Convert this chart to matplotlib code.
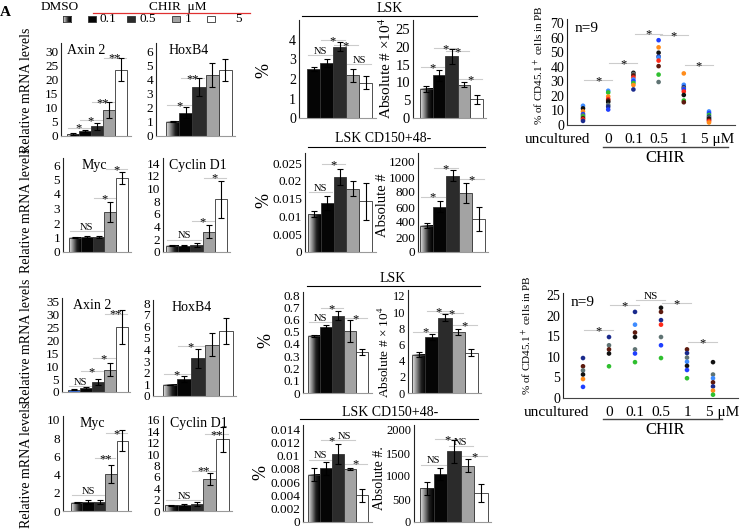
import numpy as np
import matplotlib
matplotlib.use('Agg')
import matplotlib.pyplot as plt
from matplotlib.colors import LinearSegmentedColormap
from matplotlib.patches import Rectangle
from matplotlib.ticker import FuncFormatter

plt.rcParams['font.family'] = ['Liberation Serif', 'DejaVu Serif']
plt.rcParams['mathtext.fontset'] = 'stix'

# ---- data -------------------------------------------------------------
legend_labels = ['0.1', '0.5', '1', '5']

axin2_top = [0.7, 1.8, 3.4, 9.2, 23.7]
axin2_top_err = [0.3, 0.4, 1.1, 2.8, 4.2]
hoxb4_top = [1.0, 1.65, 3.45, 4.3, 4.65]
hoxb4_top_err = [0.03, 0.4, 0.65, 0.85, 0.8]
myc_top = [1.0, 1.02, 1.03, 2.77, 5.13]
myc_top_err = [0.02, 0.08, 0.06, 0.7, 0.42]
ccnd1_top = [1.0, 1.0, 1.1, 3.2, 8.3]
ccnd1_top_err = [0.05, 0.1, 0.25, 1.05, 2.9]

axin2_bot = [0.9, 1.4, 3.9, 8.7, 25.3]
axin2_bot_err = [0.1, 0.5, 1.3, 2.4, 6.5]
hoxb4_bot = [0.95, 1.45, 3.25, 4.4, 5.6]
hoxb4_bot_err = [0.02, 0.25, 0.8, 1.0, 1.15]
myc_bot = [0.92, 1.0, 1.0, 4.1, 7.7]
myc_bot_err = [0.02, 0.2, 0.25, 1.0, 1.15]
ccnd1_bot = [1.0, 1.1, 1.2, 5.6, 12.6]
ccnd1_bot_err = [0.05, 0.15, 0.35, 1.1, 2.2]

lsk_pct_top = [2.52, 2.81, 3.66, 2.18, 1.82]
lsk_pct_top_err = [0.1, 0.2, 0.22, 0.35, 0.35]
lsk_abs_top = [8.2, 12.0, 17.3, 9.4, 5.3]
lsk_abs_top_err = [0.8, 1.5, 2.0, 0.8, 1.3]
cd_pct_top = [0.0106, 0.0138, 0.0211, 0.0178, 0.0143]
cd_pct_top_err = [0.0008, 0.002, 0.0022, 0.0022, 0.0052]
cd_abs_top = [350, 605, 1017, 784, 434]
cd_abs_top_err = [35, 70, 75, 130, 160]

lsk_pct_bot = [0.466, 0.542, 0.632, 0.507, 0.334]
lsk_pct_bot_err = [0.01, 0.012, 0.035, 0.09, 0.025]
lsk_abs_bot = [4.73, 6.9, 9.33, 7.52, 5.01]
lsk_abs_bot_err = [0.3, 0.4, 0.4, 0.35, 0.4]
cd_pct_bot = [0.0071, 0.0081, 0.0102, 0.0080, 0.0040]
cd_pct_bot_err = [0.001, 0.001, 0.0015, 0.0001, 0.001]
cd_abs_bot = [736, 1043, 1543, 1221, 629]
cd_abs_bot_err = [140, 140, 250, 140, 200]

# engraftment, one list per group
groups = ['uncultured', '0', '0.1', '0.5', '1', '5 μM']
mouse_cols = {'blue': '#1f3fff', 'lblue': '#3d8bff', 'orange': '#ff8c1a', 'red': '#ff2a1a',
              'black': '#111111', 'maroon': '#5c1a0e', 'green': '#2fbf2f', 'gray': '#5f7373',
              'navy': '#1a2a8c'}
pb_top = [
    [13.2, 11.4, 9.3, 7.5, 6.5, 5.8, 4.7, 3.8, 2.8],
    [23.5, 22.3, 19.6, 17.8, 16.8, 15.8, 13.8, 12.6, 10.6],
    [35.8, 35.0, 34.0, 32.6, 31.2, 30.1, 28.8, 27.4, 24.4],
    [58.2, 53.3, 49.6, 47.0, 46.3, 44.2, 40.4, 34.6, 29.5],
    [35.4, 27.6, 26.0, 25.2, 24.5, 23.0, 20.6, 16.8, 15.6],
    [9.3, 8.1, 6.9, 5.7, 5.0, 4.3, 3.4, 2.6, 1.7],
]
pb_top_cols = [
    ['lblue', 'black', 'orange', 'blue', 'gray', 'green', 'maroon', 'red', 'navy'],
    ['lblue', 'green', 'orange', 'red', 'maroon', 'black', 'gray', 'navy', 'blue'],
    ['black', 'gray', 'maroon', 'red', 'lblue', 'blue', 'green', 'orange', 'navy'],
    ['blue', 'orange', 'black', 'navy', 'lblue', 'red', 'maroon', 'green', 'gray'],
    ['orange', 'lblue', 'navy', 'gray', 'blue', 'red', 'black', 'green', 'maroon'],
    ['lblue', 'blue', 'green', 'navy', 'gray', 'black', 'maroon', 'red', 'orange'],
]
pb_bot = [
    [9.7, 7.7, 6.7, 5.7, 4.6, 2.7],
    [14.8, 12.8, 11.8, 10.8, 7.7],
    [20.9, 17.8, 15.9, 14.8, 11.8, 10.8, 8.7],
    [21.9, 20.9, 18.9, 17.8, 14.8, 12.8, 9.7],
    [11.8, 10.9, 9.8, 8.8, 7.8, 6.8, 4.8],
    [8.7, 5.7, 4.8, 3.8, 2.8, 1.8, 0.8],
]
pb_bot_cols = [
    ['navy', 'maroon', 'gray', 'black', 'orange', 'blue'],
    ['navy', 'gray', 'maroon', 'black', 'green'],
    ['navy', 'lblue', 'maroon', 'black', 'gray', 'blue', 'green'],
    ['black', 'maroon', 'navy', 'red', 'gray', 'blue', 'green'],
    ['maroon', 'navy', 'gray', 'lblue', 'black', 'blue', 'green'],
    ['black', 'gray', 'lblue', 'maroon', 'navy', 'orange', 'green'],
]

# ---- figure helpers ---------------------------------------------------
W, H = 741, 530
fig = plt.figure(figsize=(W / 100, H / 100), dpi=100)
grad_cmap = LinearSegmentedColormap.from_list('g', ['#e8e8e8', '#8a8a8a', '#202020', '#000000'])
BAR_COLS = ['grad', '#050505', '#2b2b2b', '#a3a3a3', 'white']
fmt = FuncFormatter(lambda v, p: f'{v:g}')


def ftext(x, y, s, **kw):
    fig.text(x / W, 1 - y / H, s, **kw)


def fline(x0, x1, y, color='black', lw=0.8):
    fig.add_artist(plt.Line2D([x0 / W, x1 / W], [1 - y / H] * 2, color=color, lw=lw))


def bar_panel(box, tick, vals, errs, sigs, yticks, colors=BAR_COLS, title=None, tx=0.5, fs=9.5):
    xs, xb0, xb1, xe, ytop, ybot = box
    tv, ty = tick
    ax = fig.add_axes([xs / W, 1 - ybot / H, (xe - xs) / W, (ybot - ytop) / H])
    x = np.arange(5)
    bars = ax.bar(x, vals, width=1, color=[('none' if c == 'grad' else c) for c in colors],
                  edgecolor='#333333', linewidth=0.6, zorder=2)
    for b, c in zip(bars, colors):
        if c == 'grad':
            ax.imshow(np.linspace(0, 1, 64).reshape(1, -1), cmap=grad_cmap, aspect='auto',
                      extent=[b.get_x(), b.get_x() + b.get_width(), 0, b.get_height()], zorder=1.9)
    ax.errorbar(x, vals, yerr=errs, fmt='none', ecolor='black', elinewidth=0.8,
                capsize=2, capthick=0.8, zorder=3)
    for i, j, h, s in sigs:
        ax.plot([i - 0.4, j + 0.4], [h, h], color='#cccccc', lw=0.8, zorder=1)
        off = -3 if '*' in s else 0.8
        ax.annotate(s, ((i + j) / 2, h), xytext=(0, off), textcoords='offset points',
                    ha='center', va='baseline', fontsize=9 if '*' in s else 7.5)
    unit = (xb1 - xb0) / 5
    ax.set_xlim(-0.5 - (xb0 - xs) / unit, 4.5 + (xe - xb1) / unit)
    ax.set_ylim(0, tv * (ybot - ytop) / (ybot - ty))
    ax.set_yticks(yticks)
    ax.yaxis.set_major_formatter(fmt)
    ax.set_xticks([])
    ax.tick_params(axis='y', length=0, pad=2, labelsize=fs)
    for sp in ['top', 'right']:
        ax.spines[sp].set_visible(False)
    ax.spines['left'].set_color('#222222')
    ax.spines['bottom'].set_color('#9a9a9a')
    if title:
        ax.text(tx, 0.99, title, transform=ax.transAxes, ha='center', va='top', fontsize=10)
    return ax


def pb_panel(box, cats, tick, vals, cols, sigs, yticks, label_y):
    xs, x0c, x5c, xe, ytop, ybot = box
    tv, ty = tick
    ax = fig.add_axes([xs / W, 1 - ybot / H, (xe - xs) / W, (ybot - ytop) / H])
    for k, (v, c) in enumerate(zip(vals, cols)):
        ax.scatter([k] * len(v), v, s=11, c=[mouse_cols[n] for n in c], linewidths=0, zorder=3)
    for i, j, h, s in sigs:
        ax.plot([i + 0.05, j + 0.15], [h, h], color='#cccccc', lw=0.8, zorder=1)
        off = -3 if '*' in s else 0.8
        ax.annotate(s, ((i + j) / 2 + 0.1, h), xytext=(0, off), textcoords='offset points',
                    ha='center', va='baseline', fontsize=9 if '*' in s else 8)
    unit = (x5c - x0c) / 5
    ax.set_xlim(-(x0c - xs) / unit, 5 + (xe - x5c) / unit)
    ax.set_ylim(0, tv * (ybot - ytop) / (ybot - ty))
    ax.set_yticks(yticks)
    ax.set_xticks([])
    ax.tick_params(axis='y', length=0, pad=2, labelsize=10)
    for sp in ['top', 'right']:
        ax.spines[sp].set_visible(False)
    ax.spines['left'].set_color('#222222')
    ax.spines['bottom'].set_color('#444444')
    xpos = [-1.03, 1, 2, 3, 4, 5.36]
    for xp, lab in zip(xpos, cats):
        ax.text(xp, label_y, lab, transform=ax.get_xaxis_transform(), ha='center', va='top',
                fontsize=11, clip_on=False)
    ax.text(0.045, 0.97, 'n=9', transform=ax.transAxes, ha='left', va='top', fontsize=11)
    return ax


# ---- legend and column labels ----------------------------------------
ftext(0, 12, 'A', fontsize=11, fontweight='bold', va='center')
ftext(60, 7, 'DMSO', fontsize=9.5, ha='center', va='center')
ftext(178, 7, 'CHIR  μM', fontsize=9.5, ha='center', va='center')
fline(93, 250, 12.5, color='#e03030', lw=0.9)
gax = fig.add_axes([63 / W, 1 - 22 / H, 8 / W, 6 / H])
gax.imshow(np.linspace(0, 1, 32).reshape(1, -1), cmap=grad_cmap, aspect='auto')
gax.set_xticks([])
gax.set_yticks([])
for sp in gax.spines.values():
    sp.set_color('#333333')
    sp.set_linewidth(0.6)
for x0, col, lab, lx in zip([88, 127, 172, 207], BAR_COLS[1:], legend_labels, [100, 140, 185, 235]):
    fig.add_artist(Rectangle((x0 / W, 1 - 22 / H), 8 / W, 6 / H, transform=fig.transFigure,
                             fc=col, ec='#333333', lw=0.6))
    ftext(lx, 19, lab, fontsize=9.5, va='center')

# ---- qPCR panels ------------------------------------------------------
bar_panel((61, 67, 127, 131, 43, 136), (30, 52), axin2_top, axin2_top_err,
          [(0, 1, 3.0, '*'), (1, 2, 5.8, '*'), (2, 3, 12.0, '**'), (3, 4, 28, '**')],
          range(0, 31, 5), title='Axin 2', tx=0.36)
bar_panel((156, 166, 232, 235, 43, 136), (6, 51), hoxb4_top, hoxb4_top_err,
          [(0, 1, 2.2, '*'), (1, 2, 4.1, '**')], range(0, 7), title='HoxB4', tx=0.41)
bar_panel((63, 69, 128, 131, 158, 252), (6, 165), myc_top, myc_top_err,
          [(0, 2, 1.45, 'NS'), (2, 3, 3.7, '*'), (3, 4, 5.7, '*')], range(0, 7), title='Myc',
          tx=0.46)
bar_panel((163, 166, 227, 230, 158, 252), (14, 163), ccnd1_top, ccnd1_top_err,
          [(0, 2, 1.95, 'NS'), (2, 3, 4.9, '*'), (3, 4, 11.7, '*')], range(0, 15, 2),
          title='Cyclin D1', tx=0.52)
bar_panel((62, 68, 128, 130, 298, 392), (35, 302), axin2_bot, axin2_bot_err,
          [(0, 1, 2.2, 'NS'), (1, 2, 8.0, '*'), (2, 3, 13.2, '*'), (3, 4, 30.5, '**')],
          range(0, 36, 5), colors=['#3a6fd8'] + BAR_COLS[1:], title='Axin 2', tx=0.44)
bar_panel((153, 163, 233, 236, 300, 396), (8, 303), hoxb4_bot, hoxb4_bot_err,
          [(0, 1, 1.9, '*'), (1, 2, 4.3, '*')], range(0, 9), title='HoxB4', tx=0.46)
bar_panel((63, 71, 128, 131, 416, 511), (10, 420), myc_bot, myc_bot_err,
          [(0, 2, 1.8, 'NS'), (2, 3, 5.8, '**'), (3, 4, 8.6, '*')], range(0, 11, 2), title='Myc',
          tx=0.43)
bar_panel((163, 165, 229, 232, 416, 511), (16, 420), ccnd1_bot, ccnd1_bot_err,
          [(0, 2, 2.0, 'NS'), (2, 3, 7.1, '**'), (3, 4, 13.5, '**')], range(0, 17, 2),
          title='Cyclin D1', tx=0.52)
for y in [90, 210, 341, 465]:
    ftext(27, y, 'Relative mRNA levels', rotation=90, ha='center', va='center', fontsize=10)

# ---- LSK panels -------------------------------------------------------
black_first = ['#050505'] + BAR_COLS[1:]
bar_panel((299, 307, 372, 376, 20, 118), (4, 40), lsk_pct_top, lsk_pct_top_err,
          [(0, 1, 3.23, 'NS'), (1, 2, 4.0, '*'), (2, 3, 3.74, '*'), (3, 4, 2.77, 'NS')],
          range(0, 5), colors=black_first, fs=10)
bar_panel((413, 420, 483, 486, 20, 118), (25, 29), lsk_abs_top, lsk_abs_top_err,
          [(0, 1, 14.3, '*'), (1, 2, 19.7, '*'), (2, 3, 18.7, '*'), (3, 4, 11.0, '*')],
          range(0, 26, 5), fs=10.5)
bar_panel((305, 308, 372, 376, 153, 252), (0.025, 163), cd_pct_top, cd_pct_top_err,
          [(0, 1, 0.0169, 'NS'), (1, 2, 0.0246, '*')], np.arange(0, 0.026, 0.005))
bar_panel((418, 420, 485, 488, 153, 252), (1200, 162), cd_abs_top, cd_abs_top_err,
          [(0, 1, 740, '*'), (1, 2, 1120, '*'), (3, 4, 975, '*')], range(0, 1201, 200))
bar_panel((303, 308, 368, 372, 292, 393), (0.8, 295), lsk_pct_bot, lsk_pct_bot_err,
          [(0, 1, 0.578, 'NS'), (1, 2, 0.69, '*'), (3, 4, 0.61, '*')], np.arange(0, 0.81, 0.1))
bar_panel((408, 412, 478, 481, 290, 393), (12, 296), lsk_abs_bot, lsk_abs_bot_err,
          [(0, 1, 7.6, '*'), (1, 2, 10.1, '*'), (2, 3, 9.9, '*'), (3, 4, 8.4, '*')],
          range(0, 13, 2), fs=9)
bar_panel((303, 308, 368, 372, 425, 522), (0.014, 429), cd_pct_bot, cd_pct_bot_err,
          [(0, 1, 0.0094, 'NS'), (1, 2, 0.0123, '*'), (2, 3, 0.0123, 'NS'), (3, 4, 0.0088, '*')],
          np.arange(0, 0.0141, 0.002))
bar_panel((414, 420, 488, 491, 425, 522), (2000, 430), cd_abs_bot, cd_abs_bot_err,
          [(0, 1, 1250, 'NS'), (1, 2, 1807, '*'), (2, 3, 1643, 'NS'), (3, 4, 1436, '*')],
          range(0, 2001, 500), fs=9)

ftext(390, 8, 'LSK', fontsize=10, ha='center', va='center')
fline(302, 477, 15.5)
ftext(383, 139, 'LSK CD150+48-', fontsize=10, ha='center', va='center')
fline(308, 485, 147)
ftext(393, 279, 'LSK', fontsize=10, ha='center', va='center')
fline(307, 480, 286)
ftext(390, 412, 'LSK CD150+48-', fontsize=10, ha='center', va='center')
fline(300, 478, 419)
for x, y in [(264, 70), (264, 200), (266, 340), (261, 472)]:
    ftext(x, y, '%', rotation=90, fontsize=13, ha='center', va='center')
ftext(386, 68, 'Absolute # ×10$^4$', rotation=90, fontsize=11, ha='center', va='center')
ftext(382, 205, 'Absolute #', rotation=90, fontsize=10.5, ha='center', va='center')
ftext(384, 352, 'Absolute # × 10$^4$', rotation=90, fontsize=9.5, ha='center', va='center')
ftext(380, 478, 'Absolute #.', rotation=90, fontsize=10, ha='center', va='center')

# ---- engraftment panels -----------------------------------------------
pb_panel((567, 583, 709, 735, 19, 125), groups, (70, 23), pb_top, pb_top_cols,
         [(0, 1, 30.8, '*'), (1, 2, 42.6, '*'), (2, 3, 62.7, '*'), (3, 4, 61.6, '*'),
          (4, 5, 41.0, '*')], range(0, 71, 10), -0.08)
fline(603, 728, 147, color='#444444', lw=1)
ftext(665, 158, 'CHIR', fontsize=12, ha='center', va='center')
ftext(539, 65, '% of CD45.1$^+$ cells in PB', rotation=90, fontsize=8, ha='center', va='center')

pb_panel((563, 583, 713, 738, 293, 398), groups, (25, 295), pb_bot, pb_bot_cols,
         [(0, 1, 16.5, '*'), (1, 2, 22.6, '*'), (2, 3, 23.8, 'NS'), (3, 4, 23.0, '*'),
          (4, 5, 13.5, '*')], range(0, 26, 5), -0.08)
fline(603, 722, 419, color='#444444', lw=1)
ftext(665, 430, 'CHIR', fontsize=12, ha='center', va='center')
ftext(527, 335, '% of CD45.1$^+$ cells in PB', rotation=90, fontsize=8, ha='center', va='center')

fig.savefig('out.png', dpi=100)
